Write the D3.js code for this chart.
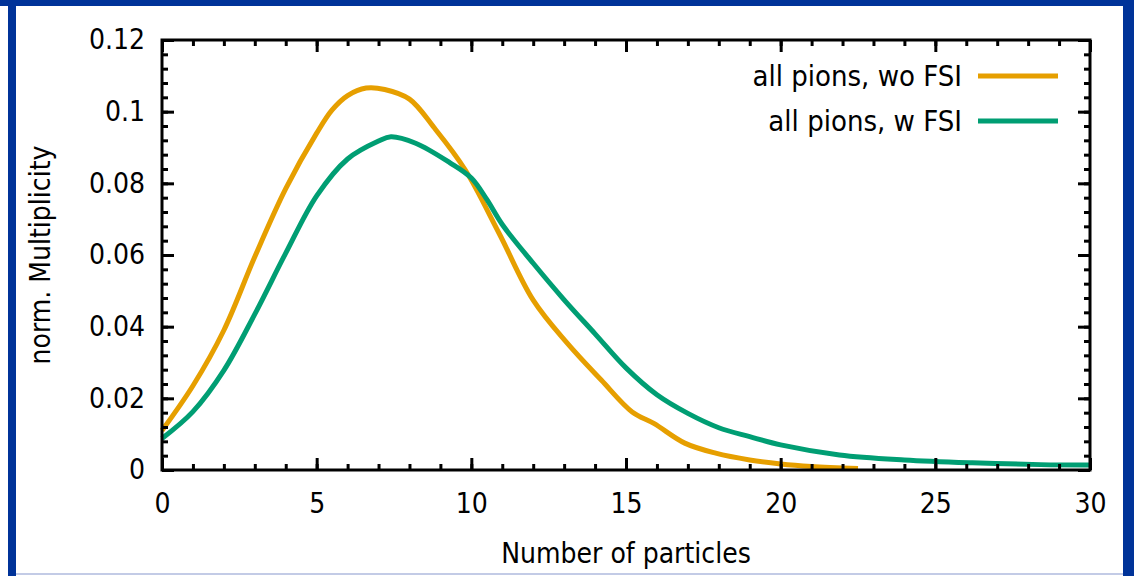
<!DOCTYPE html>
<html>
<head>
<meta charset="utf-8">
<script src="https://d3js.org/d3.v7.min.js"></script>
<style>
  body { margin: 0; background: #fff; }
  svg text { font-family: "DejaVu Sans Condensed", "DejaVu Sans", sans-serif; fill: #000; }
</style>
</head>
<body>
<div id="chart"></div>
<script>
// valores (x = numero de particulas, y = multiplicidade normalizada)
var xSemFSI = [0, 1, 2, 3, 4, 5, 5.5, 6, 6.6, 7.2, 8, 8.8, 9.8, 10.9, 12, 13.1, 14.2, 15.2, 15.9, 16.9, 17.9, 19, 20, 21, 22.5];
var ySemFSI = [0.011, 0.0235, 0.039, 0.0595, 0.0785, 0.094, 0.1005, 0.1045, 0.1066, 0.1062, 0.1035, 0.0955, 0.0838, 0.066, 0.0474, 0.0354, 0.0251, 0.0162, 0.013, 0.0075, 0.0047, 0.0028, 0.0017, 0.001, 0.0004];

var xComFSI = [0, 1, 2, 3, 4, 5, 6, 7, 7.4, 8.2, 9.3, 10, 10.5, 11, 12, 13, 14, 15, 16, 17, 18, 19, 20, 21.9, 24, 26.2, 28.4, 30];
var yComFSI = [0.0088, 0.0163, 0.0278, 0.0435, 0.0605, 0.0765, 0.0868, 0.0918, 0.093, 0.0912, 0.0858, 0.0815, 0.0755, 0.0685, 0.0577, 0.0475, 0.038, 0.0285, 0.021, 0.0158, 0.0118, 0.0093, 0.007, 0.0042, 0.0028, 0.002, 0.0015, 0.0014];

var legendas = ["all pions, wo FSI", "all pions, w FSI"];
var cores = ["#e69f00", "#009e73"];
var xTicks = [0, 5, 10, 15, 20, 25, 30];
var yTicks = [0, 0.02, 0.04, 0.06, 0.08, 0.1, 0.12];

var larguraSVG = 1134, alturaSVG = 576;
var margin = {top: 40, right: 44, bottom: 106, left: 162};
var larguraVis = larguraSVG - margin.left - margin.right,
    alturaVis = alturaSVG - margin.top - margin.bottom;

var svg = d3.select('#chart').append('svg')
    .attr('width', larguraSVG)
    .attr('height', alturaSVG);

// moldura azul
svg.append('rect').attr('x', 0).attr('y', 0).attr('width', larguraSVG).attr('height', 6).attr('fill', '#003399');
svg.append('rect').attr('x', 8).attr('y', 0).attr('width', 8).attr('height', alturaSVG).attr('fill', '#003399');
svg.append('rect').attr('x', 1123).attr('y', 0).attr('width', 11).attr('height', alturaSVG).attr('fill', '#003399');
svg.append('rect').attr('x', 16).attr('y', 573).attr('width', 1107).attr('height', 2).attr('fill', '#c3cbe6');

var grafico = svg.append('g')
    .attr('transform', 'translate(' + margin.left + ',' + margin.top + ')');

var x = d3.scaleLinear().domain([0, 30]).range([0, larguraVis]);
var y = d3.scaleLinear().domain([0, 0.12]).range([alturaVis, 0]);

// curvas
var series = [
  {xs: xSemFSI, ys: ySemFSI},
  {xs: xComFSI, ys: yComFSI}
];
var linha = d3.line()
    .x(d => x(d[0]))
    .y(d => y(d[1]))
    .curve(d3.curveCatmullRom.alpha(0.5));

series.forEach(function(s, i) {
  var pts = s.xs.map((v, j) => [v, s.ys[j]]);
  grafico.append('path')
    .datum(pts)
    .attr('fill', 'none')
    .attr('stroke', cores[i])
    .attr('stroke-width', 5)
    .attr('stroke-linejoin', 'round')
    .attr('d', linha);
});

// eixos (ticks para dentro, espelhados)
function estilo(g) {
  g.select('.domain').remove();
  g.selectAll('line').attr('stroke', '#000').attr('stroke-width', 3);
  g.selectAll('text').style('font-size', '28px').attr('fill', '#000');
}
var xMenores = d3.range(0, 31, 1);
var yMenores = d3.range(0, 0.1201, 0.004);

grafico.append('g').attr('transform', 'translate(0,' + alturaVis + ')')
  .call(d3.axisBottom(x).tickValues(xMenores).tickSize(-6).tickFormat('')).call(estilo);
grafico.append('g').attr('transform', 'translate(0,' + alturaVis + ')')
  .call(d3.axisBottom(x).tickValues(xTicks).tickSize(-12).tickPadding(23).tickFormat(d3.format('d'))).call(estilo);
grafico.append('g')
  .call(d3.axisTop(x).tickValues(xMenores).tickSize(-6).tickFormat('')).call(estilo);
grafico.append('g')
  .call(d3.axisTop(x).tickValues(xTicks).tickSize(-12).tickFormat('')).call(estilo);

grafico.append('g')
  .call(d3.axisLeft(y).tickValues(yMenores).tickSize(-6).tickFormat('')).call(estilo);
grafico.append('g')
  .call(d3.axisLeft(y).tickValues(yTicks).tickSize(-12).tickPadding(17).tickFormat(d => d === 0 ? '0' : d3.format('.2~f')(d))).call(estilo);
grafico.append('g').attr('transform', 'translate(' + larguraVis + ',0)')
  .call(d3.axisRight(y).tickValues(yMenores).tickSize(-6).tickFormat('')).call(estilo);
grafico.append('g').attr('transform', 'translate(' + larguraVis + ',0)')
  .call(d3.axisRight(y).tickValues(yTicks).tickSize(-12).tickFormat('')).call(estilo);

// moldura do grafico
grafico.append('rect')
  .attr('x', 0).attr('y', 0)
  .attr('width', larguraVis).attr('height', alturaVis)
  .attr('fill', 'none').attr('stroke', '#000').attr('stroke-width', 3);

// legenda
legendas.forEach(function(t, i) {
  var ly = 36 + i * 45;
  grafico.append('text')
    .attr('x', 800).attr('y', ly)
    .attr('dy', '0.35em')
    .attr('text-anchor', 'end')
    .style('font-size', '29px')
    .text(t);
  grafico.append('line')
    .attr('x1', 816).attr('x2', 896)
    .attr('y1', ly).attr('y2', ly)
    .attr('stroke', cores[i]).attr('stroke-width', 5);
});

// titulos dos eixos
svg.append('text')
  .attr('x', 626).attr('y', 563)
  .attr('text-anchor', 'middle')
  .style('font-size', '28px')
  .text('Number of particles');
svg.append('text')
  .attr('transform', 'translate(50,255) rotate(-90)')
  .attr('text-anchor', 'middle')
  .style('font-size', '28px')
  .text('norm. Multiplicity');
</script>
</body>
</html>
